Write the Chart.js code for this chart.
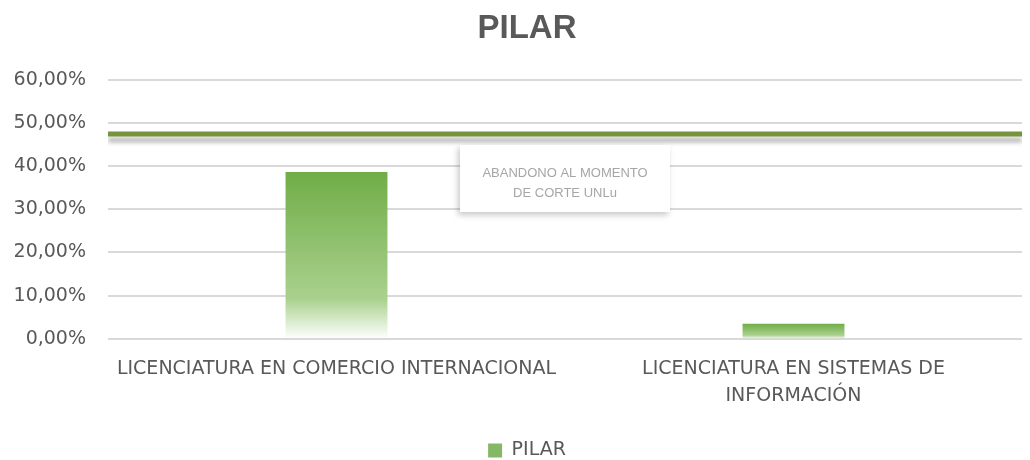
<!DOCTYPE html>
<html>
<head>
<meta charset="utf-8">
<script src="https://cdn.jsdelivr.net/npm/chart.js@4"></script>
<style>
  html, body { margin: 0; padding: 0; background: #fff; }
  #wrap { width: 1030px; height: 460px; }
</style>
</head>
<body>
<div id="wrap"><canvas id="myChart" width="1030" height="460"></canvas></div>
<script>
// chart data
const categories = [
    'LICENCIATURA EN COMERCIO INTERNACIONAL',
    ['LICENCIATURA EN SISTEMAS DE', 'INFORMACIÓN']
];
const pilarValues = [0.386, 0.035];
const abandonoLine = [0.474, 0.474];
const abandonoLabel = ['ABANDONO AL MOMENTO', 'DE CORTE UNLu'];
const yTicks = [0, 0.1, 0.2, 0.3, 0.4, 0.5, 0.6];

const fontFamily = '"DejaVu Sans", sans-serif';
const grey = '#595959';

document.addEventListener('DOMContentLoaded', function () {
    // make sure the installed fonts are ready before the canvas draws text
    Promise.all([
        document.fonts.load('18px "DejaVu Sans"'),
        document.fonts.load('bold 33px "Liberation Sans"')
    ]).then(createChart, createChart);
});

// gradient from green at top to white at the base of each bar
function barGradient(context) {
    const chart = context.chart;
    const area = chart.chartArea;
    if (!area || context.type !== 'data') return '#7DB35A';
    const y = chart.scales.y;
    const top = y.getPixelForValue(context.parsed.y);
    const base = y.getPixelForValue(0);
    const g = chart.ctx.createLinearGradient(0, top, 0, base);
    g.addColorStop(0, '#70AD47');
    g.addColorStop(0.76, '#A9D18E');
    g.addColorStop(1, '#FFFFFF');
    return g;
}

// soft shadow under the horizontal line
const lineShadow = {
    id: 'lineShadow',
    beforeDatasetDraw(chart, args) {
        if (args.index !== 1) return;
        const ctx = chart.ctx;
        ctx.save();
        ctx.shadowColor = 'rgba(0,0,0,0.28)';
        ctx.shadowBlur = 4;
        ctx.shadowOffsetY = 6;
    },
    afterDatasetDraw(chart, args) {
        if (args.index !== 1) return;
        chart.ctx.restore();
    }
};

// label box for the line
const lineLabel = {
    id: 'lineLabel',
    afterDraw(chart) {
        const ctx = chart.ctx;
        const x0 = 460, y0 = 145, w = 210, h = 67;
        ctx.save();
        ctx.shadowColor = 'rgba(0,0,0,0.22)';
        ctx.shadowBlur = 6;
        ctx.shadowOffsetX = -2;
        ctx.shadowOffsetY = 3;
        ctx.fillStyle = '#FFFFFF';
        ctx.fillRect(x0, y0, w, h);
        ctx.restore();
        ctx.save();
        ctx.fillStyle = '#A6A6A6';
        ctx.font = '13px "Liberation Sans", Arial, sans-serif';
        ctx.textAlign = 'center';
        ctx.textBaseline = 'middle';
        ctx.fillText(abandonoLabel[0], x0 + w / 2, y0 + 28);
        ctx.fillText(abandonoLabel[1], x0 + w / 2, y0 + 48);
        ctx.restore();
    }
};

function createChart() {
    const ctx = document.getElementById('myChart').getContext('2d');
    const myChart = new Chart(ctx, {
        type: 'bar',
        data: {
            labels: categories,
            datasets: [{
                label: 'PILAR',
                data: pilarValues,
                backgroundColor: barGradient,
                borderWidth: 0,
                grouped: false,
                categoryPercentage: 1,
                barPercentage: 0.223,
                order: 2
            }, {
                type: 'line',
                label: 'ABANDONO',
                data: [{ x: 0, y: abandonoLine[0] }, { x: 1, y: abandonoLine[1] }],
                xAxisID: 'x2',
                borderColor: '#77933C',
                borderWidth: 5,
                pointRadius: 0,
                order: 1
            }]
        },
        options: {
            responsive: false,
            animation: false,
            // negative right padding + empty right axis keeps title/legend centred like the original
            layout: { padding: { left: 15, right: -9, top: 4, bottom: -10 } },
            scales: {
                x: {
                    grid: { display: false },
                    border: { display: false },
                    afterFit: function (axis) { axis.height += 23; },
                    ticks: {
                        color: grey,
                        font: { family: fontFamily, size: 19, lineHeight: 1.45 },
                        maxRotation: 0,
                        padding: 8
                    }
                },
                x2: {
                    type: 'linear',
                    display: false,
                    min: 0,
                    max: 1,
                    offset: false
                },
                y: {
                    min: 0,
                    max: 0.6,
                    afterBuildTicks: function (axis) {
                        axis.ticks = yTicks.map(v => ({ value: v }));
                    },
                    afterFit: function (axis) { axis.width = 93; },
                    grid: {
                        color: '#D9D9D9',
                        lineWidth: 2,
                        drawTicks: false
                    },
                    border: { display: false },
                    ticks: {
                        color: grey,
                        font: { family: fontFamily, size: 19 },
                        padding: 22,
                        callback: function (v) {
                            return (v * 100).toFixed(2).replace('.', ',') + '%';
                        }
                    }
                },
                yRight: {
                    position: 'right',
                    grid: { display: false },
                    border: { display: false },
                    ticks: { display: false },
                    afterFit: function (axis) { axis.width = 17; }
                }
            },
            plugins: {
                title: {
                    display: true,
                    text: 'PILAR',
                    color: grey,
                    font: { family: '"Liberation Sans", Arial, sans-serif', size: 33, weight: 'bold' },
                    padding: { top: 5, bottom: 31 }
                },
                legend: {
                    position: 'bottom',
                    labels: {
                        color: grey,
                        font: { family: fontFamily, size: 19 },
                        boxWidth: 14,
                        boxHeight: 14,
                        padding: 0,
                        generateLabels: function (chart) {
                            return [{
                                text: 'PILAR',
                                fillStyle: '#84B866',
                                strokeStyle: 'rgba(0,0,0,0)',
                                lineWidth: 0,
                                fontColor: grey,
                                datasetIndex: 0
                            }];
                        }
                    }
                },
                tooltip: { enabled: false }
            }
        },
        plugins: [lineShadow, lineLabel]
    });
}
</script>
</body>
</html>
